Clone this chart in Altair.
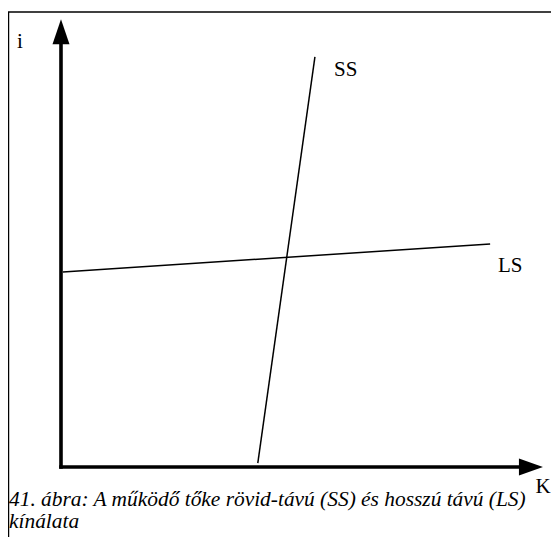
import altair as alt
import pandas as pd

# Model coordinates: K on the horizontal axis, i on the vertical axis
k_domain = [-1.104, 10.208]
i_domain = [-1.636, 10.432]

# Curves
ss_k = [4.10, 5.29]
ss_i = [0.09, 9.32]
ls_k = [0.04, 8.94]
ls_i = [4.43, 5.07]

# Axes (from origin) and arrow heads
axis_k_end = 9.60
axis_i_end = 9.70
arrow_k_center = 9.79
arrow_i_center = 9.895

# Frame (top and left rules)
frame_left_k = -1.094
frame_top_i = 10.341
frame_bottom_i = -1.591

# Labels (left-aligned)
label_text = ["i", "SS", "LS"]
label_k = [-0.917, 5.6875, 9.104]
label_i = [9.523, 8.886, 4.432]

# Axis label K (right-aligned at the right edge)
k_label_text = ["K"]
k_label_k = [10.20]
k_label_i = [-0.58]

caption_lines = ["41. ábra: A működő tőke rövid-távú (SS) és hosszú távú (LS)", "kínálata"]
caption_k = [-1.083, -1.083]
caption_i = [-0.875, -1.395]

xs = alt.Scale(domain=k_domain, nice=False, zero=False)
ys = alt.Scale(domain=i_domain, nice=False, zero=False)
SERIF = "Liberation Serif, Times New Roman, serif"


def seg_df(k1, i1, k2, i2):
    return pd.DataFrame({"k": [k1], "i": [i1], "k2": [k2], "i2": [i2]})


def segment(df, width, cap="butt"):
    return alt.Chart(df).mark_rule(color="black", strokeWidth=width, strokeCap=cap).encode(
        x=alt.X("k:Q", scale=xs, axis=None),
        y=alt.Y("i:Q", scale=ys, axis=None),
        x2="k2:Q",
        y2="i2:Q",
    )


frame_top = segment(seg_df(k_domain[0], frame_top_i, k_domain[1], frame_top_i), 1.5)
frame_left = segment(seg_df(frame_left_k, frame_top_i, frame_left_k, frame_bottom_i), 1.5)

axis_v = segment(seg_df(0, 0, 0, axis_i_end), 3.6, "square")
axis_h = segment(seg_df(0, 0, axis_k_end, 0), 3.6, "square")

ss_line = segment(seg_df(ss_k[0], ss_i[0], ss_k[1], ss_i[1]), 1.5)
ls_line = segment(seg_df(ls_k[0], ls_i[0], ls_k[1], ls_i[1]), 1.5)

arrow_up = alt.Chart(pd.DataFrame({"k": [0.0], "i": [arrow_i_center]})).mark_point(
    shape="M0,-1L0.68,1L-0.68,1Z", filled=True, size=625, color="black", opacity=1, strokeWidth=0
).encode(x=alt.X("k:Q", scale=xs, axis=None), y=alt.Y("i:Q", scale=ys, axis=None))

arrow_right = alt.Chart(pd.DataFrame({"k": [arrow_k_center], "i": [0.0]})).mark_point(
    shape="M1,0L-1,0.71L-1,-0.71Z", filled=True, size=576, color="black", opacity=1, strokeWidth=0
).encode(x=alt.X("k:Q", scale=xs, axis=None), y=alt.Y("i:Q", scale=ys, axis=None))

labels = alt.Chart(pd.DataFrame({"t": label_text, "k": label_k, "i": label_i})).mark_text(
    font=SERIF, fontSize=21, color="black", align="left", baseline="alphabetic"
).encode(x=alt.X("k:Q", scale=xs, axis=None), y=alt.Y("i:Q", scale=ys, axis=None), text="t:N")

k_label = alt.Chart(pd.DataFrame({"t": k_label_text, "k": k_label_k, "i": k_label_i})).mark_text(
    font=SERIF, fontSize=21, color="black", align="right", baseline="alphabetic"
).encode(x=alt.X("k:Q", scale=xs, axis=None), y=alt.Y("i:Q", scale=ys, axis=None), text="t:N")

caption = alt.Chart(pd.DataFrame({"t": caption_lines, "k": caption_k, "i": caption_i})).mark_text(
    font=SERIF, fontSize=21.4, fontStyle="italic", color="black", align="left",
    baseline="alphabetic"
).encode(x=alt.X("k:Q", scale=xs, axis=None), y=alt.Y("i:Q", scale=ys, axis=None), text="t:N")

chart = alt.layer(
    frame_top, frame_left, axis_v, axis_h, arrow_up, arrow_right, ss_line, ls_line,
    labels, k_label, caption
).properties(
    width=543, height=531, autosize=alt.AutoSizeParams(type="none"), padding=0, background="white"
).configure_view(stroke=None)

chart.save("out.html", embed_options={"renderer": "svg", "actions": False})
